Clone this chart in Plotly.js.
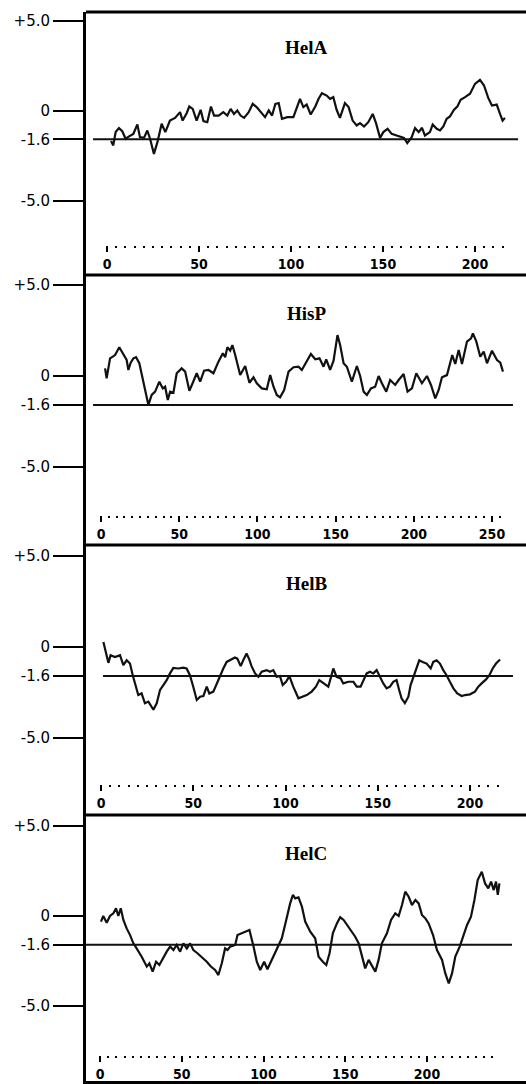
<!DOCTYPE html>
<html><head><meta charset="utf-8">
<script src="https://cdn.plot.ly/plotly-3.0.1.min.js"></script>
<style>html,body{margin:0;padding:0;background:#fff;} #chart{width:526px;height:1084px;}
.xtick text{font-stretch:condensed;}
</style>
</head><body><div id="chart"></div>
<script>
// ---------------- DATA ----------------
const panelNames = ['HelA', 'HisP', 'HelB', 'HelC'];

const helA_res = [2.2,3.4,4.7,6.5,8.3,10.1,12.0,14.3,16.5,17.9,20.1,21.9,23.4,25.5,27.4,29.7,31.7,34.2,37.0,39.7,41.1,43.3,44.7,46.6,48.7,50.9,52.4,54.5,56.5,58.2,60.7,63.2,65.4,67.2,69.0,70.8,72.6,74.5,77.0,79.2,81.3,83.5,85.9,87.9,89.7,91.5,93.3,95.1,98.0,101.3,103.1,104.9,106.7,108.5,110.7,113.2,115.0,116.8,119.4,121.2,123.0,124.8,126.6,129.3,131.3,133.5,135.7,137.5,139.7,142.0,144.4,146.2,148.4,150.2,152.5,154.7,157.4,159.6,161.4,163.2,165.6,167.4,169.4,171.2,172.8,175.5,177.0,179.2,181.0,182.8,184.6,186.4,188.6,190.4,192.2,194.6,197.3,200.0,202.7,204.9,207.2,209.2,211.8,213.6,215.0,216.3];
const helA_val = [-1.70,-1.94,-1.20,-0.98,-1.15,-1.57,-1.44,-1.30,-0.78,-1.48,-1.52,-1.11,-1.57,-2.41,-1.76,-0.74,-1.20,-0.56,-0.41,-0.09,-0.56,-0.15,0.22,0.09,-0.56,0.04,-0.59,-0.65,0.22,-0.28,-0.28,-0.09,-0.28,0.09,-0.19,0.0,-0.28,-0.41,-0.09,0.37,0.19,-0.09,-0.37,0.0,-0.28,0.37,0.41,-0.46,-0.37,-0.37,0.15,0.65,0.19,0.33,-0.22,0.22,0.65,0.96,0.83,0.65,0.74,0.04,-0.41,0.41,0.19,-0.56,-0.83,-0.70,-0.89,-0.65,-0.19,-0.70,-1.52,-1.20,-1.02,-1.30,-1.39,-1.48,-1.52,-1.81,-1.48,-0.98,-1.20,-0.96,-1.39,-1.20,-0.78,-1.02,-1.11,-0.89,-0.46,-0.33,0.04,0.22,0.59,0.74,0.93,1.48,1.70,1.39,0.70,0.28,0.33,-0.19,-0.56,-0.41];

const hisP_res = [2.6,3.6,5.8,9.0,11.7,14.3,16.4,17.5,19.0,20.7,22.4,24.5,26.7,28.6,30.3,32.4,34.6,37.3,39.5,41.0,42.7,44.2,46.3,48.4,51.6,53.8,56.5,58.7,61.2,63.4,65.9,68.7,71.9,75.1,77.9,79.4,80.8,82.6,84.0,85.8,87.9,89.0,92.2,94.9,97.5,99.6,102.8,106.0,108.2,110.3,112.4,114.5,117.1,119.9,123.1,126.3,128.4,131.2,134.2,137.0,139.7,142.3,144.0,146.5,148.7,151.2,152.9,155.1,157.2,160.4,163.6,165.7,167.9,170.0,172.6,175.3,177.5,179.6,182.4,184.9,188.1,190.3,193.5,196.0,198.8,201.6,203.7,205.2,208.4,211.0,213.7,215.9,218.0,221.2,224.6,226.5,228.7,230.8,234.0,236.6,237.8,240.0,242.5,244.7,246.8,250.0,253.2,255.3,257.0];
const hisP_val = [0.42,-0.13,0.97,1.15,1.58,1.15,0.88,0.33,0.73,0.97,1.03,0.70,-0.22,-0.95,-1.59,-1.04,-0.86,-0.31,-0.68,-0.59,-1.32,-0.86,-0.92,0.15,0.42,0.24,-0.81,-0.37,0.15,-0.31,0.29,0.33,0.15,0.79,1.25,1.03,1.58,1.39,1.70,1.15,0.51,0.05,0.55,-0.37,-0.07,-0.40,-0.68,-0.73,0.05,-0.59,-1.04,-1.17,-0.77,0.24,0.48,0.51,0.33,0.73,1.21,0.92,0.97,0.51,0.92,0.33,0.84,2.25,1.70,0.70,0.51,-0.31,0.55,0.0,-0.86,-1.04,-0.68,-0.59,0.0,-0.40,-0.86,-0.22,-0.49,-0.22,0.11,-0.86,-0.68,0.15,-0.22,-0.40,0.0,-0.49,-1.23,-0.77,-0.07,0.05,1.15,0.66,1.43,0.66,1.89,2.07,2.34,1.89,1.06,1.34,0.70,1.39,0.88,0.73,0.24];

const helB_res = [1.3,2.7,4.0,5.2,7.6,10.3,12.1,13.9,15.7,17.2,18.4,20.2,22.0,23.8,25.7,28.4,30.2,32.0,33.8,35.6,37.4,39.2,41.9,44.6,46.4,48.2,50.0,51.9,53.7,55.5,57.3,58.7,60.9,62.7,64.5,66.3,68.1,69.9,72.6,73.9,75.7,77.1,78.9,80.4,81.6,83.5,85.3,87.1,88.3,89.8,91.6,93.4,95.2,97.0,98.5,100.3,102.1,104.2,107.0,108.8,111.5,114.2,116.5,118.3,120.5,123.2,124.7,125.9,127.7,129.9,131.3,134.1,136.8,138.6,140.7,142.2,144.0,145.8,147.6,149.4,151.2,153.0,154.8,156.6,158.4,160.2,161.6,162.9,164.7,166.6,167.8,170.2,172.5,174.3,176.5,178.7,180.1,181.9,183.7,185.5,187.3,189.1,191.0,193.1,195.5,197.3,200.0,202.7,204.5,206.3,208.7,210.5,212.3,214.1,216.3];
const helB_val = [0.27,-0.36,-0.87,-0.45,-0.55,-0.45,-1.0,-0.73,-0.91,-1.55,-2.0,-2.64,-2.55,-3.09,-3.0,-3.45,-3.09,-2.36,-2.09,-1.82,-1.45,-1.15,-1.18,-1.13,-1.18,-1.55,-2.18,-2.91,-2.73,-2.69,-2.18,-2.55,-2.45,-2.0,-1.55,-1.18,-0.82,-0.73,-0.58,-0.64,-1.05,-0.73,-0.36,-0.69,-1.05,-1.45,-1.64,-1.36,-1.33,-1.27,-1.36,-1.27,-1.64,-1.60,-2.09,-1.91,-1.60,-2.18,-2.82,-2.73,-2.64,-2.45,-2.18,-1.82,-2.0,-2.18,-1.64,-1.18,-1.64,-1.73,-2.0,-1.91,-1.91,-2.18,-2.18,-1.82,-1.45,-1.36,-1.45,-1.27,-1.64,-2.0,-2.27,-2.18,-1.91,-1.82,-2.36,-2.82,-3.09,-2.73,-2.09,-1.45,-0.73,-0.82,-0.91,-1.18,-0.82,-0.73,-0.91,-1.27,-1.55,-1.91,-2.27,-2.55,-2.69,-2.64,-2.60,-2.45,-2.18,-2.0,-1.78,-1.55,-1.18,-0.91,-0.69];

const helC_res = [0.6,2.0,4.1,6.1,8.2,9.8,11.2,12.7,14.3,16.3,18.4,20.4,22.4,25.5,28.6,30.2,32.2,34.3,36.3,38.8,40.8,42.9,44.9,46.9,49.0,51.0,53.1,55.1,57.1,59.6,62.2,65.3,67.8,70.4,72.4,74.5,76.5,78.0,79.6,82.7,84.1,86.7,88.8,91.4,93.9,95.9,98.0,100.4,102.4,105.1,108.2,111.2,113.9,116.3,118.0,119.4,121.4,123.5,125.5,128.6,131.6,133.7,136.3,138.4,140.4,142.4,144.9,146.9,149.0,151.0,153.5,156.1,158.2,160.2,162.2,164.3,166.3,168.4,170.4,172.4,175.5,178.0,180.6,182.7,184.7,186.7,188.8,190.8,192.9,194.9,196.9,199.0,201.0,203.7,206.1,209.2,211.2,213.3,215.3,217.3,220.0,222.4,224.5,226.9,229.0,231.0,233.5,235.5,237.5,239.2,240.8,242.2,243.3,244.3];
const helC_val = [-0.31,0.0,-0.37,0.0,0.15,0.43,0.0,0.43,-0.22,-0.69,-1.06,-1.52,-1.80,-2.26,-2.81,-2.63,-3.09,-2.54,-2.72,-2.26,-1.98,-1.70,-1.89,-1.61,-1.98,-1.52,-1.80,-1.52,-1.89,-2.07,-2.26,-2.54,-2.81,-3.0,-3.28,-2.63,-1.80,-1.89,-1.70,-1.61,-1.06,-0.96,-0.87,-0.78,-1.70,-2.54,-3.0,-2.54,-2.96,-2.44,-1.89,-1.24,-0.22,0.70,1.17,0.98,1.04,0.52,-0.31,-0.87,-1.24,-2.26,-2.54,-2.72,-2.07,-0.96,-0.41,-0.07,-0.22,-0.50,-0.78,-1.15,-1.52,-2.26,-2.91,-2.44,-2.72,-3.09,-2.44,-1.52,-0.96,-0.22,0.15,0.0,0.61,1.35,1.07,0.61,0.89,0.70,0.06,-0.13,-0.41,-1.06,-1.89,-2.44,-3.19,-3.74,-3.19,-2.26,-1.70,-1.06,-0.50,-0.04,0.89,2.0,2.46,1.81,1.54,1.91,1.44,1.91,1.17,1.81];

const threshold = -1.6;
const thresholdFrom = [-7.6, -5.1, 1.1, -9.2];
const thresholdTo = [223.4, 263.4, 223.3, 252.0];

const yTickVals = [5, 0, -1.6, -5];
const yTickText = ['+5.0', '0', '-1.6', '-5.0'];
const xTickVals = [[0,50,100,150,200],[0,50,100,150,200,250],[0,50,100,150,200],[0,50,100,150,200]];
const residueEnd = [215, 255, 215, 240];

// ---------------- GEOMETRY (pixels) ----------------
const W = 526, H = 1084, L = 86;
const panelTopPx = [12, 275, 545, 815];
const panelBotPx = [275, 545, 815, 1084];
const yZeroPx = [110.5, 376, 647, 916];
const yPxPerUnit = [18, 18.2, 18.2, 18];
const xZeroPx = [107, 101, 101, 100];
const xPxPerUnit = [1.84, 1.564, 1.845, 1.635];
const xAxisPx = [245, 515, 784, 1055];
const titlePx = [48, 313, 583, 853];

const series = [[helA_res, helA_val],[hisP_res, hisP_val],[helB_res, helB_val],[helC_res, helC_val]];

const traces = [];
const layout = {
  width: W, height: H,
  margin: {l: L, r: 0, t: 0, b: 0},
  paper_bgcolor: '#fff', plot_bgcolor: '#fff',
  showlegend: false,
  shapes: [], annotations: []
};
const fr = px => 1 - px / H;

for (let i = 0; i < 4; i++) {
  const s = i === 0 ? '' : String(i + 1);
  traces.push({
    x: series[i][0], y: series[i][1], xaxis: 'x' + s, yaxis: 'y' + s,
    type: 'scatter', mode: 'lines', line: {color: '#111', width: 2.2}, hoverinfo: 'skip'
  });
  traces.push({
    x: [thresholdFrom[i], thresholdTo[i]], y: [threshold, threshold], xaxis: 'x' + s, yaxis: 'y' + s,
    type: 'scatter', mode: 'lines', line: {color: '#111', width: 2}, hoverinfo: 'skip'
  });
  const dots = [];
  for (let v = 5; v <= residueEnd[i]; v += 5) if (v % 50 !== 0) dots.push(v);
  layout['xaxis' + s] = {
    domain: [0, 1],
    range: [-(xZeroPx[i] - L) / xPxPerUnit[i], (W - xZeroPx[i]) / xPxPerUnit[i]],
    anchor: 'free', position: fr(xAxisPx[i]),
    showline: false, showgrid: false, zeroline: false,
    tickmode: 'array', tickvals: xTickVals[i], ticktext: xTickVals[i].map(String),
    ticks: 'outside', ticklen: 6, tickwidth: 2, tickcolor: '#000',
    tickfont: {family: 'DejaVu Sans Condensed, Liberation Sans Narrow, DejaVu Sans, sans-serif', size: 14, weight: 'bold', color: '#000'},
    minor: {tickmode: 'array', tickvals: dots, ticks: 'outside', ticklen: 2, tickwidth: 2, tickcolor: '#000', showgrid: false},
    fixedrange: true
  };
  layout['yaxis' + s] = {
    domain: [fr(panelBotPx[i]), fr(panelTopPx[i])],
    range: [(yZeroPx[i] - panelBotPx[i]) / yPxPerUnit[i], (yZeroPx[i] - panelTopPx[i]) / yPxPerUnit[i]],
    anchor: 'x' + s,
    showline: true, linewidth: 3, linecolor: '#000',
    showgrid: false, zeroline: false,
    tickmode: 'array', tickvals: yTickVals, ticktext: yTickText,
    ticks: 'outside', ticklen: 30, tickwidth: 2, tickcolor: '#000',
    tickfont: {family: 'DejaVu Sans, sans-serif', size: 15, color: '#000'},
    fixedrange: true
  };
  layout.shapes.push({type: 'line', xref: 'paper', yref: 'paper', x0: 0, x1: 1, y0: fr(panelTopPx[i]), y1: fr(panelTopPx[i]), line: {color: '#000', width: 3}});
  layout.annotations.push({
    text: '<b>' + panelNames[i] + '</b>', xref: 'paper', yref: 'paper', x: 0.5, y: fr(titlePx[i]),
    xanchor: 'center', yanchor: 'middle', showarrow: false,
    font: {family: 'Liberation Serif, Times New Roman, serif', size: 19, color: '#000'}
  });
}
layout.shapes.push({type: 'line', xref: 'paper', yref: 'paper', x0: 0, x1: 1, y0: fr(1082.5), y1: fr(1082.5), line: {color: '#000', width: 3}});

Plotly.newPlot('chart', traces, layout, {staticPlot: true, displayModeBar: false});
</script>
</body></html>
